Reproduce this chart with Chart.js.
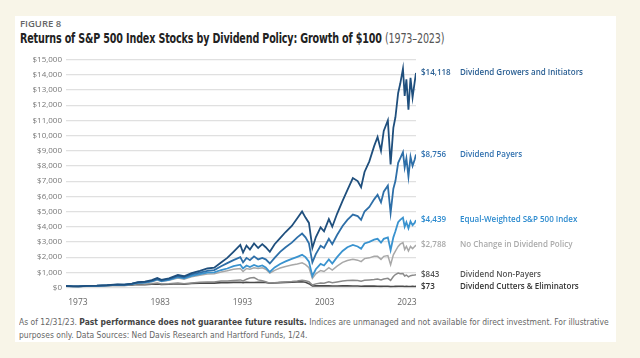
<!DOCTYPE html>
<html>
<head>
<meta charset="utf-8">
<script src="https://cdn.jsdelivr.net/npm/chart.js@4.4.1/dist/chart.umd.min.js"></script>
<style>
  html, body { margin: 0; padding: 0; }
  body { width: 640px; height: 358px; background: #f8f5e8; position: relative; overflow: hidden; }
  #card { position: absolute; left: 15px; top: 16px; width: 601px; height: 326px; background: #fff; }
  #fig { position: absolute; left: 20px; top: 17px; font: 600 9.5px "Open Sans", sans-serif; color: #666; }
  #title { position: absolute; left: 20px; top: 30px; font: bold 13.5px "DejaVu Sans Condensed", "Liberation Sans Narrow", sans-serif; color: #222; white-space: nowrap; letter-spacing: -0.2px; transform: scaleX(0.79); transform-origin: left top; }
  #title span { font-weight: normal; color: #555; }
  #note { position: absolute; left: 19px; top: 315px; font: 9.5px/13px "DejaVu Sans Condensed", "Liberation Sans Narrow", sans-serif; color: #666; white-space: nowrap; transform: scaleX(0.89); transform-origin: left top; }
  #note b { color: #444; }
  #chart { position: absolute; left: 0; top: 0; }
</style>
</head>
<body>
<div id="card"></div>
<div id="fig">FIGURE 8</div>
<div id="title">Returns of S&amp;P 500 Index Stocks by Dividend Policy: Growth of $100 <span>(1973–2023)</span></div>
<div id="note">As of 12/31/23. <b>Past performance does not guarantee future results.</b> Indices are unmanaged and not available for direct investment. For illustrative<br>purposes only. Data Sources: Ned Davis Research and Hartford Funds, 1/24.</div>
<canvas id="chart" width="640" height="358"></canvas>

<script>
// ==============================
// Data (growth of $100)
// ==============================
const years = [
    1973.0, 1974.0, 1974.8, 1976.0, 1977.5, 1979.0, 1980.5, 1981.5, 1982.6, 1983.5,
    1984.5, 1985.5, 1986.3, 1986.9, 1988.0, 1989.3, 1990.2, 1991.3, 1992.5, 1993.6,
    1994.6, 1995.6, 1996.5, 1997.4, 1998.4, 1998.8, 1999.3, 1999.8, 2000.4, 2001.0,
    2001.6, 2002.1, 2002.7, 2003.4, 2004.2, 2005.0, 2005.9, 2006.7, 2007.4, 2007.9,
    2008.4, 2008.9, 2009.4, 2010.1, 2010.6, 2011.3, 2011.8, 2012.5, 2013.3, 2014.0,
    2014.8, 2015.5, 2016.0, 2016.5, 2017.2, 2017.9, 2018.4, 2018.9, 2019.3, 2019.9,
    2020.3, 2020.7, 2021.0, 2021.4, 2021.7, 2022.1, 2022.35, 2022.6, 2022.9, 2023.2,
    2023.5, 2023.8, 2024.0
];

const growers = [
    100, 80, 70, 110, 120, 150, 200, 190, 260, 360,
    380, 480, 620, 500, 600, 820, 740, 950, 1100, 1250,
    1300, 1650, 1950, 2350, 2800, 2300, 2750, 2500, 2900, 2600,
    2850, 2650, 2350, 2850, 3250, 3650, 4050, 4550, 5000, 4600,
    4250, 2600, 3300, 3950, 3700, 4500, 4000, 4850, 5700, 6400,
    7200, 7000, 6600, 7600, 8300, 9300, 9900, 9000, 10300, 11000,
    8100, 10500, 11200, 12800, 13400, 14400, 12600, 13700, 11700, 13800,
    12500, 13500, 14118
];

const payers = [
    100, 78, 68, 105, 115, 140, 185, 180, 240, 330,
    350, 440, 570, 460, 550, 740, 670, 860, 980, 1100,
    1150, 1400, 1600, 1800, 2000, 1650, 1950, 1800, 2050, 1850,
    1950, 1850, 1580, 1950, 2350, 2650, 2950, 3300, 3550, 3300,
    2900, 1650, 2200, 2750, 2600, 3200, 2850, 3450, 4050, 4450,
    4800, 4700, 4450, 5000, 5300, 5800, 6100, 5600, 6300, 6700,
    4900, 6500, 7000, 8200, 8500, 8900, 7900, 8500, 7300, 8600,
    8000, 8400, 8756
];

const equalWeighted = [
    100, 72, 62, 100, 110, 135, 175, 170, 230, 310,
    330, 410, 530, 430, 510, 680, 600, 770, 880, 980,
    1000, 1150, 1250, 1400, 1500, 1250, 1450, 1350, 1480, 1380,
    1450, 1320, 1020, 1320, 1550, 1720, 1880, 2020, 2150, 2000,
    1700, 750, 1200, 1550, 1450, 1850, 1580, 2000, 2400, 2650,
    2800, 2700, 2550, 2900, 3000, 3150, 3200, 2950, 3200, 3300,
    2450, 3300, 3700, 4300, 4450, 4600, 4000, 4300, 3900, 4350,
    4100, 4250, 4439
];

const noChange = [
    100, 74, 64, 100, 108, 130, 165, 160, 215, 290,
    310, 380, 490, 400, 470, 620, 550, 700, 800, 880,
    900, 1020, 1100, 1200, 1250, 1050, 1250, 1200, 1300, 1250,
    1300, 1200, 950, 1130, 1280, 1380, 1480, 1550, 1620, 1500,
    1300, 600, 900, 1120, 1050, 1300, 1150, 1400, 1650, 1780,
    1850, 1800, 1700, 1900, 1950, 2050, 2050, 1850, 2050, 2100,
    1500, 2150, 2400, 2700, 2850, 2950, 2500, 2700, 2400, 2700,
    2550, 2700, 2788
];

const nonPayers = [
    100, 68, 58, 95, 110, 140, 170, 150, 190, 240,
    220, 250, 290, 230, 250, 300, 240, 300, 340, 370,
    360, 420, 430, 460, 500, 430, 540, 620, 650, 500,
    440, 380, 290, 320, 340, 360, 390, 430, 480, 440,
    380, 160, 240, 300, 280, 370, 310, 360, 420, 460,
    480, 460, 420, 470, 500, 530, 560, 500, 560, 600,
    470, 720, 850, 950, 900, 920, 760, 820, 700, 780,
    800, 820, 843
];

const cutters = [
    100, 70, 60, 95, 100, 120, 145, 140, 165, 200,
    190, 210, 240, 200, 215, 250, 210, 260, 280, 300,
    290, 320, 320, 340, 350, 320, 350, 330, 330, 340,
    350, 330, 280, 300, 320, 335, 350, 370, 380, 340,
    250, 100, 110, 115, 105, 110, 95, 100, 105, 108,
    100, 95, 85, 90, 90, 90, 85, 75, 80, 80,
    55, 70, 75, 85, 85, 85, 70, 75, 65, 70,
    72, 70, 73
];

const seriesNames = [
    "Dividend Growers and Initiators",
    "Dividend Payers",
    "Equal-Weighted S&P 500 Index",
    "No Change in Dividend Policy",
    "Dividend Non-Payers",
    "Dividend Cutters & Eliminators"
];

const endValueLabels = ["$14,118", "$8,756", "$4,439", "$2,788", "$843", "$73"];

const xTickLabels = ["1973", "1983", "1993", "2003", "2023"];

const lineColors = ["#1f4f7d", "#2e6fa8", "#3a93cf", "#a8a8a8", "#8a8a8a", "#4a4a4a"];
const textColors = ["#2a5f93", "#3272b0", "#2d8bcf", "#aaaaaa", "#555555", "#333333"];
const lineWidths = [1.8, 1.8, 1.8, 1.5, 1.5, 1.6];


// ==============================
// Labels at the end of each line
// ==============================
const endLabelsPlugin = {
    id: "endLabels",
    afterDatasetsDraw(chart) {
        const ctx = chart.ctx;
        const yScale = chart.scales.y;
        const right = chart.chartArea.right;

        ctx.save();
        ctx.font = "600 8px 'Open Sans', sans-serif";
        ctx.textBaseline = "middle";
        ctx.textAlign = "left";

        chart.data.datasets.forEach((ds, i) => {
            const last = ds.data[ds.data.length - 1];
            const y = yScale.getPixelForValue(last.y);
            ctx.fillStyle = textColors[i];
            ctx.fillText(endValueLabels[i], right + 5, y);
            ctx.fillText(seriesNames[i], right + 44, y);
        });

        ctx.restore();
    }
};


// ==============================
// Chart
// ==============================
const allSeries = [growers, payers, equalWeighted, noChange, nonPayers, cutters];

new Chart(document.getElementById("chart"), {
    type: "line",
    data: {
        datasets: allSeries.map((values, i) => ({
            label: seriesNames[i],
            data: years.map((t, j) => ({ x: t, y: values[j] })),
            borderColor: lineColors[i],
            borderWidth: lineWidths[i],
            pointRadius: 0,
            tension: 0,
            xAxisID: "x",
            yAxisID: "y"
        }))
    },
    options: {
        responsive: false,
        animation: false,
        devicePixelRatio: 1,
        layout: {
            padding: { top: 59.5, right: 224, bottom: 40, left: 0 }
        },
        plugins: {
            legend: { display: false },
            tooltip: { enabled: false }
        },
        scales: {
            x: {
                type: "linear",
                min: 1973,
                max: 2024,
                display: false
            },
            x2: {
                type: "linear",
                position: "bottom",
                min: -0.145,
                max: 4.11,
                grid: { display: false },
                border: { display: false },
                afterBuildTicks: axis => {
                    axis.ticks = xTickLabels.map((_, i) => ({ value: i }));
                },
                afterFit: axis => {
                    axis.height = 30.5;
                },
                ticks: {
                    autoSkip: false,
                    maxRotation: 0,
                    padding: 2,
                    color: "#666",
                    font: { family: "Open Sans", size: 8.5 },
                    callback: v => xTickLabels[v]
                }
            },
            y: {
                min: 0,
                max: 15000,
                afterFit: axis => {
                    axis.width = 66;
                },
                grid: { color: "#e0e0e0", lineWidth: 1.2, drawTicks: false },
                border: { display: false },
                ticks: {
                    stepSize: 1000,
                    padding: 4,
                    color: "#777",
                    font: { family: "Open Sans", size: 8 },
                    callback: v => "$" + v.toLocaleString("en-US")
                }
            }
        }
    },
    plugins: [endLabelsPlugin]
});
</script>
</body>
</html>
